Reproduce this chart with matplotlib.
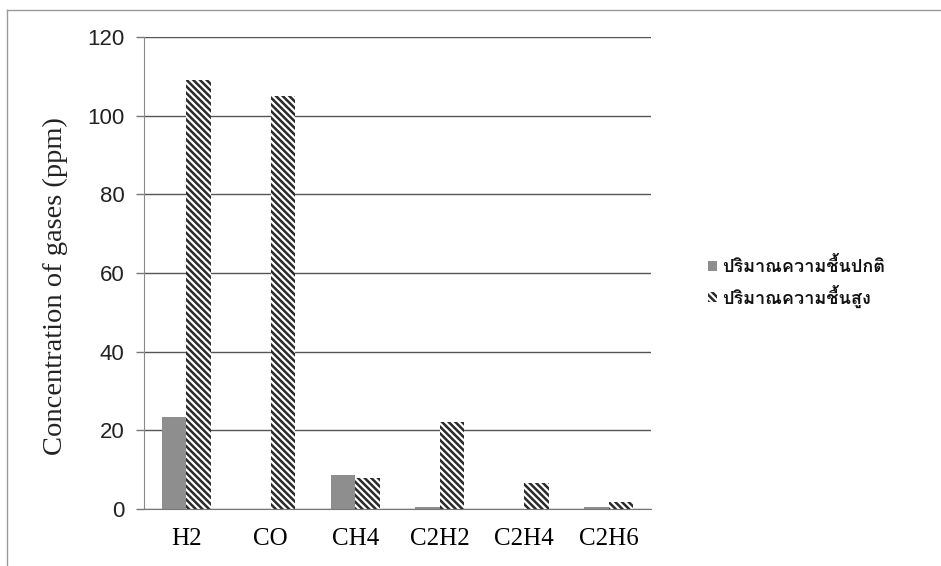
import matplotlib
matplotlib.use("Agg")
import matplotlib.pyplot as plt
from matplotlib.lines import Line2D
import numpy as np

# ---------- data ----------
gases = ["H2", "CO", "CH4", "C2H2", "C2H4", "C2H6"]
normal_moisture = [23.4, 0.0, 8.7, 0.5, 0.0, 0.4]   # ppm
high_moisture = [109.0, 105.0, 7.9, 22.1, 6.6, 1.8]  # ppm
series_names = ["ปริมาณความชื้นปกติ", "ปริมาณความชื้นสูง"]
y_ticks = [0, 20, 40, 60, 80, 100, 120]

plt.rcParams["hatch.linewidth"] = 1.8
plt.rcParams["hatch.color"] = "#2a2a2a"

fig = plt.figure(figsize=(9.41, 5.66), dpi=100)
ax = fig.add_axes([144 / 941, 1 - 509 / 566, 507 / 941, 472 / 566])

x = np.arange(len(gases))
w = 0.29
ax.bar(x - w / 2, normal_moisture, w, color="#8e8e8e", linewidth=0,
       label=series_names[0])
ax.bar(x + w / 2, high_moisture, w, color="white", edgecolor="#2a2a2a",
       hatch="\\\\\\\\\\", linewidth=0, label=series_names[1])

ax.set_xlim(-0.5, len(gases) - 0.5)
ax.set_ylim(0, 120)
ax.set_yticks(y_ticks)
ax.set_xticks(x)
ax.set_xticklabels(gases, family="Liberation Serif", fontsize=18)
for lbl in ax.get_yticklabels():
    lbl.set_family("Liberation Sans")
    lbl.set_fontsize(16)
    lbl.set_color("#222222")
ax.tick_params(axis="x", length=0, pad=14)
ax.tick_params(axis="y", length=6, width=1, color="#777777", pad=8)

ax.set_ylabel("Concentration of gases (ppm)", family="Liberation Serif",
              fontsize=20.5, color="#222222")
ax.yaxis.set_label_coords(-0.150, 0.472)

# horizontal gridlines behind the bars
ax.set_axisbelow(True)
ax.yaxis.grid(True, color="#555555", linewidth=1.0)
for side in ("top", "right"):
    ax.spines[side].set_visible(False)
ax.spines["left"].set_color("#8a8a8a")
ax.spines["left"].set_linestyle((0, (2, 1)))
ax.spines["bottom"].set_color("#777777")

leg = ax.legend(loc="center left", bbox_to_anchor=(1.08, 0.48), frameon=False,
                prop={"family": "Loma", "size": 13, "weight": "bold"},
                handlelength=0.5, handleheight=0.5, handletextpad=0.3,
                labelspacing=0.45)
for t in leg.get_texts():
    t.set_color("#111111")

# thin outer frame along top and left edges
fig.add_artist(Line2D([7 / 941, 1], [1 - 10 / 566, 1 - 10 / 566],
                      transform=fig.transFigure, color="#999999", linewidth=1))
fig.add_artist(Line2D([7 / 941, 7 / 941], [0, 1 - 10 / 566],
                      transform=fig.transFigure, color="#999999", linewidth=1))

fig.savefig("out.png", dpi=100)
